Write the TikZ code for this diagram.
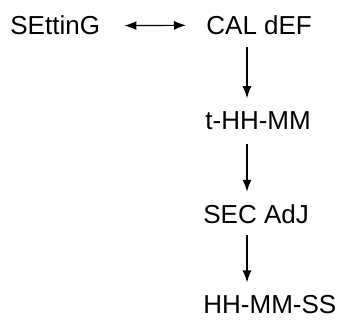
\documentclass[tikz,border=0pt]{standalone}
\usepackage{fontspec}
\setmainfont{Liberation Sans}
\usepackage{tikz}
\usetikzlibrary{
  arrows.meta,
  positioning,
}
\tikzset{
  modeText/.style={
    inner sep=0pt, anchor=base west, font=\fontsize{13pt}{15pt}\selectfont,
  },
  arrowMed/.style={
    -{Latex[length=6pt,width=4.5pt]}, line width=0.6pt, draw=black,
  },
  arrowBoth/.style={
    {Latex[length=6pt,width=4.5pt]}-{Latex[length=6pt,width=4.5pt]},
    line width=0.6pt, draw=black,
  },
}

\begin{document}
\begin{tikzpicture}[x=0.5pt,y=-0.5pt]
\useasboundingbox (0,0) rectangle (343,320);

\node[modeText] (setting) at (10,35) {SEttinG};
\node[modeText] (calDef) at (206,34.5) {CAL dEF};
\node[modeText] (timeHM) at (205,129.5) {t-HH-MM};
\node[modeText] (secAdj) at (203,224) {SEC AdJ};
\node[modeText] (timeHMS) at (203,314) {HH-MM-SS};

\draw[arrowBoth, shorten <=12pt, shorten >=10pt] (setting.east) -- (calDef.west);
\draw[arrowMed, shorten <=6pt, shorten >=6.5pt]
  ([xshift=20.5pt]calDef.south west) -- ([xshift=21pt]timeHM.north west);
\draw[arrowMed, shorten <=7pt, shorten >=6.5pt]
  ([xshift=21pt]timeHM.south west) -- ([xshift=22pt]secAdj.north west);
\draw[arrowMed, shorten <=5pt, shorten >=6.5pt]
  ([xshift=22pt]secAdj.south west) -- ([xshift=22pt]timeHMS.north west);

\end{tikzpicture}
\end{document}
